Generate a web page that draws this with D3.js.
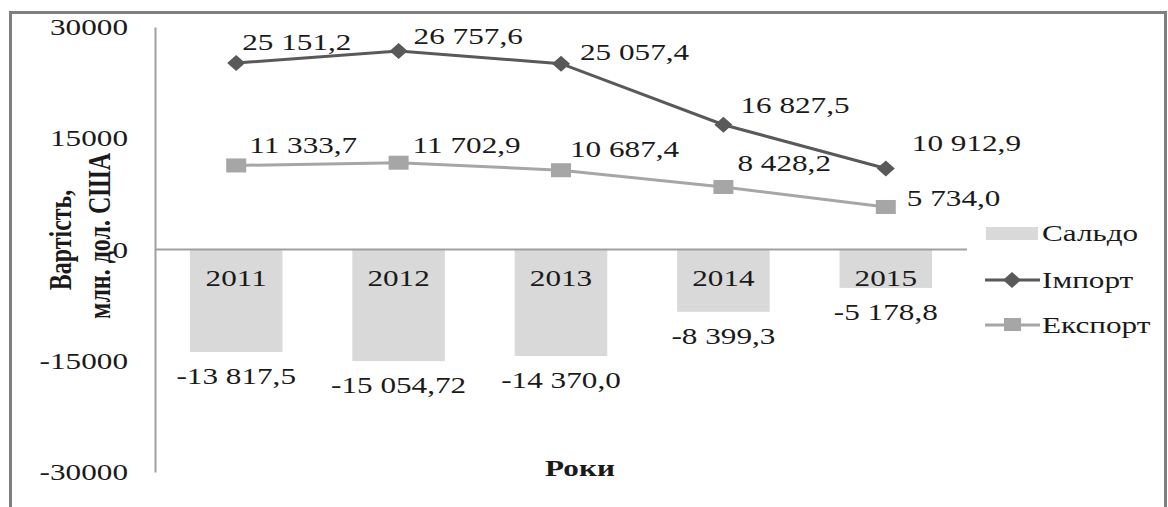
<!DOCTYPE html>
<html>
<head>
<meta charset="utf-8">
<script src="https://cdn.jsdelivr.net/npm/d3@7"></script>
<style>
  body { margin: 0; background: #fff; }
  svg { display: block; }
  text { font-family: "Liberation Serif", "Times New Roman", serif; fill: #1a1a1a; }
</style>
</head>
<body>
<div id="chart"></div>
<script>
// data
const years = ["2011", "2012", "2013", "2014", "2015"];
const saldo = [-13817.5, -15054.72, -14370.0, -8399.3, -5178.8];
const importVals = [25151.2, 26757.6, 25057.4, 16827.5, 10912.9];
const exportVals = [11333.7, 11702.9, 10687.4, 8428.2, 5734.0];
const saldoLabels = ["-13 817,5", "-15 054,72", "-14 370,0", "-8 399,3", "-5 178,8"];
const importLabels = ["25 151,2", "26 757,6", "25 057,4", "16 827,5", "10 912,9"];
const exportLabels = ["11 333,7", "11 702,9", "10 687,4", "8 428,2", "5 734,0"];
const yTicks = [30000, 15000, 0, -15000, -30000];
const legendNames = ["Сальдо", "Імпорт", "Експорт"];

// label offsets (style only)
const importOff = [[6, -21], [15, -15], [19, -12], [17, -20], [26, -26]];
const exportOff = [[13, -21], [14, -18], [9, -21], [14, -24], [21, -9]];

const W = 1168, H = 507;
const SX = 1.3; // source image is stretched horizontally
const FS = 24;

const svg = d3.select("#chart").append("svg")
  .attr("width", W).attr("height", H);

// outer frame (bottom edge is cut off)
svg.append("rect")
  .attr("x", 10.5).attr("y", 12.5)
  .attr("width", 1155).attr("height", 560)
  .attr("fill", "none").attr("stroke", "#7f7f7f").attr("stroke-width", 3);

const x = d3.scaleBand().domain(years).range([155, 967])
  .paddingInner(0.43).paddingOuter(0.215);
const y = d3.scaleLinear().domain([-30000, 30000]).range([472, 27]);
const cx = (d) => x(d) + x.bandwidth() / 2;

function label(g, px, py, str, anchor, bold) {
  return g.append("text")
    .attr("transform", `translate(${px},${py}) scale(${SX},1)`)
    .attr("text-anchor", anchor)
    .attr("dominant-baseline", "central")
    .style("font-size", FS + "px")
    .style("font-weight", bold ? "bold" : "normal")
    .text(str);
}

// y axis (line only, labels placed left)
const yAxis = svg.append("g").attr("transform", "translate(155,0)")
  .call(d3.axisLeft(y).tickValues(yTicks).tickSize(0).tickFormat(""));
yAxis.select(".domain").attr("stroke", "#a0a0a0").attr("stroke-width", 2);
yTicks.forEach((t) => label(svg, 128, y(t), String(t), "end", false));

// bars
svg.selectAll(".bar")
  .data(years)
  .enter()
  .append("rect")
  .attr("class", "bar")
  .attr("x", (d) => x(d))
  .attr("width", x.bandwidth())
  .attr("y", y(0))
  .attr("height", (d, i) => y(saldo[i]) - y(0))
  .attr("fill", "#d9d9d9");

// zero line
svg.append("line")
  .attr("x1", 155).attr("x2", 967)
  .attr("y1", y(0)).attr("y2", y(0))
  .attr("stroke", "#a0a0a0").attr("stroke-width", 2);

// year labels inside bars, saldo labels below
years.forEach((d, i) => {
  label(svg, cx(d), y(0) + 28, d, "middle", false);
  label(svg, cx(d), y(saldo[i]) + 24, saldoLabels[i], "middle", false);
});

const line = d3.line().x((d, i) => cx(years[i])).y((d) => y(d));

// export line
svg.append("path").datum(exportVals)
  .attr("d", line).attr("fill", "none")
  .attr("stroke", "#a6a6a6").attr("stroke-width", 3);
svg.selectAll(".exp-pt").data(exportVals).enter().append("rect")
  .attr("class", "exp-pt")
  .attr("x", (d, i) => cx(years[i]) - 10).attr("y", (d) => y(d) - 7)
  .attr("width", 20).attr("height", 14)
  .attr("fill", "#a6a6a6");

// import line
svg.append("path").datum(importVals)
  .attr("d", line).attr("fill", "none")
  .attr("stroke", "#595959").attr("stroke-width", 3);
const diamond = "M-9,0L0,-8L9,0L0,8Z";
svg.selectAll(".imp-pt").data(importVals).enter().append("path")
  .attr("class", "imp-pt")
  .attr("transform", (d, i) => `translate(${cx(years[i])},${y(d)})`)
  .attr("d", diamond)
  .attr("fill", "#595959");

importVals.forEach((v, i) => {
  label(svg, cx(years[i]) + importOff[i][0], y(v) + importOff[i][1], importLabels[i], "start", false);
});
exportVals.forEach((v, i) => {
  label(svg, cx(years[i]) + exportOff[i][0], y(v) + exportOff[i][1], exportLabels[i], "start", false);
});

// axis titles
svg.append("text")
  .attr("transform", "translate(60,240) rotate(-90) scale(1,1.3)")
  .attr("text-anchor", "middle").attr("dominant-baseline", "central")
  .style("font-size", FS + "px").style("font-weight", "bold")
  .text("Вартість,");
svg.append("text")
  .attr("transform", "translate(99,236) rotate(-90) scale(1,1.3)")
  .attr("text-anchor", "middle").attr("dominant-baseline", "central")
  .style("font-size", FS + "px").style("font-weight", "bold")
  .text("млн. дол. США");
label(svg, 580, 468, "Роки", "middle", true);

// legend
const lg = svg.append("g");
lg.append("rect").attr("x", 986).attr("y", 227).attr("width", 52).attr("height", 13)
  .attr("fill", "#d9d9d9");
lg.append("line").attr("x1", 985).attr("x2", 1040).attr("y1", 280).attr("y2", 280)
  .attr("stroke", "#595959").attr("stroke-width", 3);
lg.append("path").attr("transform", "translate(1012,280)").attr("d", diamond)
  .attr("fill", "#595959");
lg.append("line").attr("x1", 985).attr("x2", 1040).attr("y1", 325).attr("y2", 325)
  .attr("stroke", "#a6a6a6").attr("stroke-width", 3);
lg.append("rect").attr("x", 1004).attr("y", 318).attr("width", 17).attr("height", 13)
  .attr("fill", "#a6a6a6");
[233, 280, 325].forEach((ly, i) => label(lg, 1042, ly, legendNames[i], "start", false));
</script>
</body>
</html>
